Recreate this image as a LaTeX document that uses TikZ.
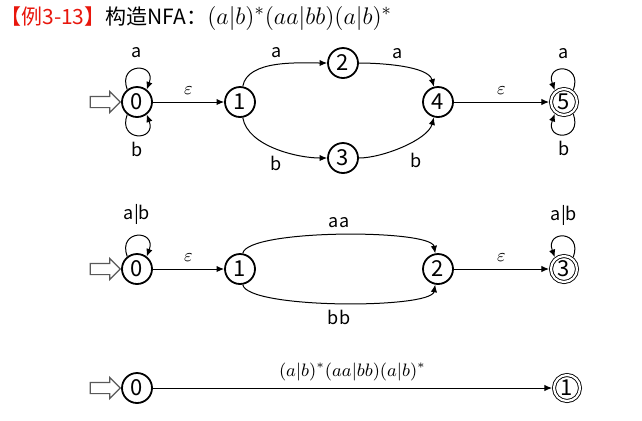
\documentclass[tikz,border=0pt]{standalone}
\usepackage[no-math]{fontspec}
\setmainfont{Noto Sans CJK SC}
\usetikzlibrary{arrows.meta,positioning,shapes.arrows}
\definecolor{titleRed}{HTML}{E8160C}
\begin{document}
\begin{tikzpicture}[
  x=0.5pt,y=0.5pt,
  state/.style={draw,circle,line width=0.9pt,minimum size=15pt,inner sep=0pt,
                font=\fontsize{11}{12}\selectfont},
  accept/.style={state,line width=0.45pt,double,double distance=1.1pt,
                 minimum size=13pt,outer sep=1pt},
  entry/.style={draw=black!65,fill=white,single arrow,single arrow head extend=2.5pt,
                minimum height=15pt,inner sep=2.5pt,line width=0.6pt},
  lbl/.style={font=\fontsize{9}{10}\selectfont},
  edge/.style={-{Latex[length=3.8pt,width=3.2pt]},line width=0.5pt}
]
\useasboundingbox (0,0) rectangle (642,-420);

% title
\node[anchor=west,inner sep=0pt,font=\fontsize{10.5}{12}\selectfont] (title) at (0,-18)
  {\textcolor{titleRed}{【例3-13】}构造NFA：{\fontsize{13}{14}\selectfont$(a|b)^*(aa|bb)(a|b)^*$}};

% first automaton
\node[state] (a0) at (137,-102) {0};
\node[state] (a1) at (240,-102) {1};
\node[state] (a2) at (343,-63) {2};
\node[state] (a3) at (343,-158) {3};
\node[state] (a4) at (438,-102) {4};
\node[accept] (a5) at (564,-102) {5};
\node[entry,left=0pt of a0] (in1) {};

\draw[edge] (a0.128) .. controls +(110:14.5pt) and +(70:14.5pt) .. node[lbl,above=2pt]{a} (a0.52);
\draw[edge] (a0.-128) .. controls +(-110:14.5pt) and +(-70:14.5pt) .. node[lbl,below]{b} (a0.-52);
\draw[edge] (a0) -- node[lbl,above]{$\varepsilon$} (a1);
\draw[edge] (a1) to[out=80,in=180,looseness=0.8] node[lbl,above]{a} (a2);
\draw[edge] (a2) to[out=0,in=105,looseness=0.7] node[lbl,above,pos=.45]{a} (a4);
\draw[edge] (a1) to[out=-80,in=180,looseness=0.8] node[lbl,below]{b} (a3);
\draw[edge] (a3) to[out=0,in=-105,looseness=0.7] node[lbl,below right=0pt,pos=.5]{b} (a4);
\draw[edge] (a4) -- node[lbl,above]{$\varepsilon$} (a5);
\draw[edge] (a5.52) .. controls +(70:14.5pt) and +(110:14.5pt) .. node[lbl,above=2pt]{a} (a5.128);
\draw[edge] (a5.-52) .. controls +(-70:14.5pt) and +(-110:14.5pt) .. node[lbl,below]{b} (a5.-128);

% second automaton
\node[state] (b0) at (137,-269) {0};
\node[state] (b1) at (240,-269) {1};
\node[state] (b2) at (438,-269) {2};
\node[accept] (b3) at (564,-269) {3};
\node[entry,left=0pt of b0] (in2) {};

\draw[edge] (b0.128) .. controls +(110:14.5pt) and +(70:14.5pt) .. node[lbl,above=2pt]{a|b} (b0.52);
\draw[edge] (b0) -- node[lbl,above]{$\varepsilon$} (b1);
\draw[edge] (b1) to[out=80,in=100,looseness=0.33] node[lbl,above]{aa} (b2);
\draw[edge] (b1) to[out=-80,in=-100,looseness=0.33] node[lbl,below]{bb} (b2);
\draw[edge] (b2) -- node[lbl,above]{$\varepsilon$} (b3);
\draw[edge] (b3.52) .. controls +(70:14.5pt) and +(110:14.5pt) .. node[lbl,above=2pt]{a|b} (b3.128);

% third automaton
\node[state] (c0) at (137,-388) {0};
\node[accept] (c1) at (567,-388) {1};
\node[entry,left=0pt of c0] (in3) {};

\draw[edge] (c0) -- node[lbl,above]{$(a|b)^*(aa|bb)(a|b)^*$} (c1);
\end{tikzpicture}
\end{document}
